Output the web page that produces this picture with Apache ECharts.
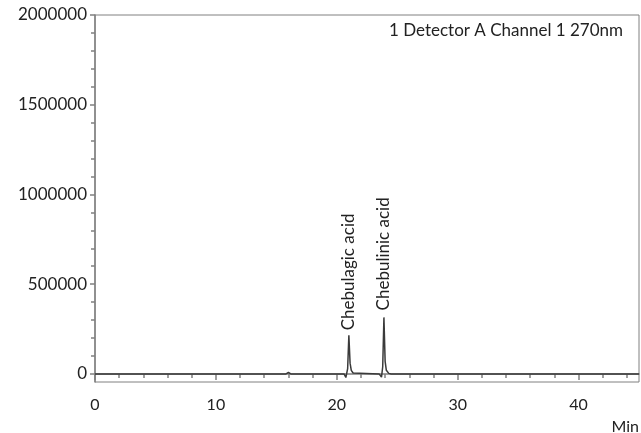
<!DOCTYPE html>
<html><head><meta charset="utf-8">
<script src="https://cdn.jsdelivr.net/npm/echarts@6/dist/echarts.min.js"></script>
<style>html,body{margin:0;padding:0;background:#fff}#c{width:641px;height:433px}</style>
</head><body><div id="c"></div>
<script>
// Retention time (min) and detector response
const timeMin = [0, 15.8, 16.0, 16.2, 20.6, 20.75, 20.9, 21.0, 21.1, 21.2, 21.35, 21.5, 23.5, 23.7, 23.8, 23.9, 24.0, 24.1, 24.3, 24.5, 45];
const signal  = [0, 0, 8000, 0, 0, -20000, 30000, 215000, 60000, 20000, 5000, 0, 0, -18000, 40000, 315000, 70000, 20000, 3000, 0, 0];
const peakIndex = [7, 15];
const peakNames = ['Chebulagic acid', 'Chebulinic acid'];
const xMajorTicks = [0, 10, 20, 30, 40];
const xMinorTicks = [2,4,6,8,12,14,16,18,22,24,26,28,32,34,36,38,42,44];
const yMajorTicks = [0, 500000, 1000000, 1500000, 2000000];
const yMinorTicks = [100000,200000,300000,400000,600000,700000,800000,900000,1100000,1200000,1300000,1400000,1600000,1700000,1800000,1900000];
const channelText = '1 Detector A Channel 1 270nm';
const xUnit = 'Min';

const font = 'Lato, "Open Sans", sans-serif';
const axisColor = '#808080';
const data = timeMin.map((t, i) => {
  const k = peakIndex.indexOf(i);
  if (k < 0) return {value: [t, signal[i]]};
  return {value: [t, signal[i]], label: {show: true, formatter: peakNames[k], rotate: 90, position: 'top', distance: k === 0 ? 5 : 7, align: 'left', verticalAlign: 'middle', fontFamily: font, fontSize: 17, color: '#222'}};
});

const chart = echarts.init(document.getElementById('c'));
chart.setOption({
  animation: false,
  grid: {left: 95, right: 2, top: 15, bottom: 51, show: true, borderColor: axisColor, borderWidth: 1},
  title: {text: channelText, left: 384, top: 17, textStyle: {fontFamily: font, fontSize: 17, fontWeight: 'normal', color: '#222'}},
  xAxis: [
    {type: 'value', min: 0, max: 45, position: 'bottom',
     axisLine: {show: true, lineStyle: {color: axisColor, width: 1.5}},
     axisTick: {show: true, customValues: xMajorTicks, length: 6, lineStyle: {color: axisColor, width: 1.5}},
     axisLabel: {customValues: xMajorTicks, margin: 15, fontFamily: font, fontSize: 16, color: '#222'},
     splitLine: {show: false}},
    {type: 'value', min: 0, max: 45, position: 'bottom',
     axisLine: {show: false},
     axisTick: {show: true, customValues: xMinorTicks, length: 4, lineStyle: {color: axisColor, width: 1.5}},
     axisLabel: {show: false}, splitLine: {show: false}}
  ],
  yAxis: [
    {type: 'value', min: -45000, max: 2000000, position: 'left',
     axisLine: {show: true, lineStyle: {color: axisColor, width: 1.5}},
     axisTick: {show: true, customValues: yMajorTicks, length: 5, lineStyle: {color: axisColor, width: 1.5}},
     axisLabel: {customValues: yMajorTicks, formatter: v => String(v), margin: 8, fontFamily: font, fontSize: 17, color: '#222'},
     splitLine: {show: false}},
    {type: 'value', min: -45000, max: 2000000, position: 'left',
     axisLine: {show: false},
     axisTick: {show: true, customValues: yMinorTicks, length: 4, lineStyle: {color: axisColor, width: 1.5}},
     axisLabel: {show: false}, splitLine: {show: false}}
  ],
  graphic: [{type: 'text', right: 2, bottom: -2, style: {text: xUnit, fontFamily: font, fontSize: 16, fill: '#222'}}],
  series: [{
    type: 'line', xAxisIndex: 0, yAxisIndex: 0, data: data, showSymbol: true, symbol: 'circle', symbolSize: 0,
    showAllSymbol: true,
    lineStyle: {color: '#3a3a3a', width: 1.5}, itemStyle: {color: '#3a3a3a'}, silent: true
  }]
});
</script></body></html>
